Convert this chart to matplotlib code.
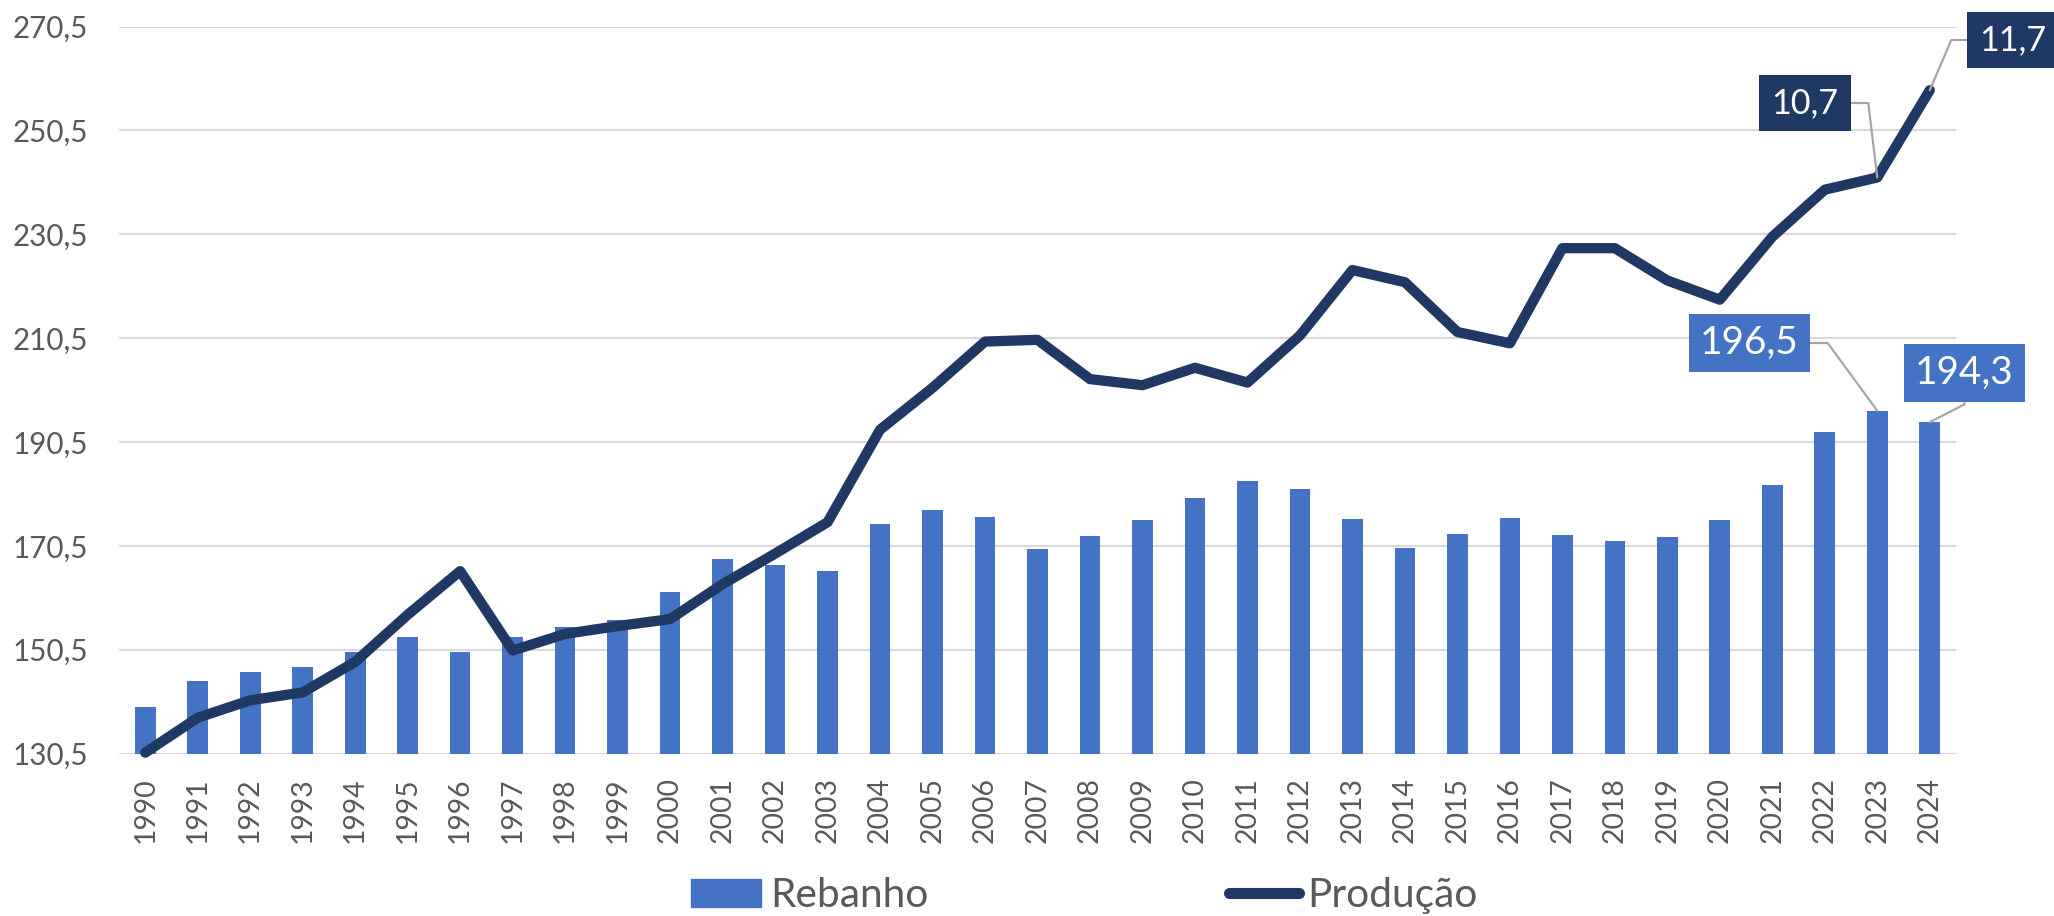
import matplotlib
matplotlib.use("Agg")
import matplotlib.pyplot as plt
from matplotlib.patches import Patch
from matplotlib.lines import Line2D
from matplotlib.ticker import FuncFormatter

plt.rcParams['font.family'] = ['Lato', 'DejaVu Sans']

years = [str(y) for y in range(1990, 2025)]
rebanho = [139.4, 144.4, 146.2, 147.2, 150.0, 152.9, 150.0, 153.0, 154.8, 156.3,
           161.6, 168.0, 166.8, 165.7, 174.6, 177.3, 176.0, 169.9, 172.3, 175.4,
           179.7, 183.0, 181.5, 175.7, 170.0, 172.7, 175.8, 172.5, 171.5, 172.2,
           175.5, 182.3, 192.5, 196.5, 194.3]
producao = [4.11, 4.51, 4.71, 4.80, 5.15, 5.69, 6.19, 5.28, 5.47, 5.56,
            5.64, 6.04, 6.39, 6.75, 7.81, 8.29, 8.82, 8.84, 8.39, 8.32,
            8.52, 8.35, 8.89, 9.64, 9.50, 8.93, 8.80, 9.89, 9.89, 9.52,
            9.30, 10.02, 10.56, 10.7, 11.7]
yticks = [130.5, 150.5, 170.5, 190.5, 210.5, 230.5, 250.5, 270.5]

BAR = '#4472C4'
NAVY = '#203864'
GRAY = '#595959'
GRID = '#D9D9D9'
LEAD = '#A6A6A6'

W, H = 2054, 916
fig = plt.figure(figsize=(W / 100, H / 100), dpi=100)
renderer = fig.canvas.get_renderer()
PX = 100 / 72.0  # pixels per point


def fit(text, target_px, ref=20.0):
    t = fig.text(0, 0, text, fontsize=ref)
    w = t.get_window_extent(renderer=renderer).width
    t.remove()
    return ref * target_px / w


ysize = fit('270,5', 72) * 1.05
xsize = fit('1990', 61) * 1.08
lsize = fit('Rebanho', 154) * 1.03
s107 = fit('10,7', 65) * 1.04
s1965 = fit('196,5', 95) * 1.04

ax = fig.add_axes([119 / W, 1 - 753.5 / H, (1956 - 119) / W, (753.5 - 26.5) / H])
x = list(range(len(years)))

ax.bar(x, rebanho, width=0.394, color=BAR, zorder=2)
ax.set_ylim(130.5, 270.5)
ax.set_xlim(-0.5, len(years) - 0.5)
ax.set_yticks(yticks)
ax.yaxis.set_major_formatter(FuncFormatter(lambda v, p: f"{v:.1f}".replace('.', ',')))
ax.set_xticks(x)
ax.set_xticklabels(years, rotation=90)
ax.grid(axis='y', color=GRID, lw=1.5, zorder=0)
ax.set_axisbelow(True)
for s in ax.spines.values():
    s.set_visible(False)
ax.tick_params(axis='y', length=0, pad=22, labelsize=ysize, labelcolor=GRAY)
ax.tick_params(axis='x', length=0, pad=17, labelsize=xsize, labelcolor=GRAY)

ax2 = ax.twinx()
ax2.set_ylim(4.1, 12.43)
ax2.plot(x, producao, color=NAVY, lw=7.4, solid_capstyle='round',
         solid_joinstyle='round', clip_on=False, zorder=3)
ax2.set_yticks([])
for s in ax2.spines.values():
    s.set_visible(False)


def label(text, xy, coords, center, color, size, box_w, angA, angB):
    t = fig.text(0, 0, text, fontsize=size)
    tw = t.get_window_extent(renderer=renderer).width
    t.remove()
    pad = (box_w - tw) / 2 / (size * PX)
    ax2.annotate(text, xy=xy, xycoords=coords, xytext=center,
                 textcoords='figure pixels', ha='center', va='center',
                 fontsize=size, color='white', annotation_clip=False, zorder=5,
                 bbox=dict(boxstyle=f'square,pad={pad:.3f}', fc=color, ec='none'),
                 arrowprops=dict(arrowstyle='-', color=LEAD, lw=1.6,
                                 shrinkA=0, shrinkB=0,
                                 connectionstyle=f'angle,angleA={angA},angleB={angB},rad=0'))


label('10,7', (33, producao[33]), ax2.transData, (1805, H - 103), NAVY, s107, 92, 0, 96.9)
label('11,7', (34, producao[34]), ax2.transData, (2013, H - 40), NAVY, s107, 92, 0, 66.8)
label('196,5', (33, rebanho[33]), ax.transData, (1749.5, H - 343), BAR, s1965, 121, 0, 126.2)
label('194,3', (34, rebanho[34]), ax.transData, (1964.5, H - 373), BAR, s1965, 121, 90, 27.2)

handles = [Patch(color=BAR), Line2D([0], [0], color=NAVY, lw=8, solid_capstyle='round')]
fig.legend(handles, ['Rebanho', 'Produção'], loc='center', bbox_to_anchor=(0.528, 0.022),
           ncol=2, frameon=False, fontsize=lsize, labelcolor=GRAY,
           handlelength=70 / (lsize * PX), handletextpad=9 / (lsize * PX),
           columnspacing=300 / (lsize * PX))

fig.savefig('out.png', dpi=100)
